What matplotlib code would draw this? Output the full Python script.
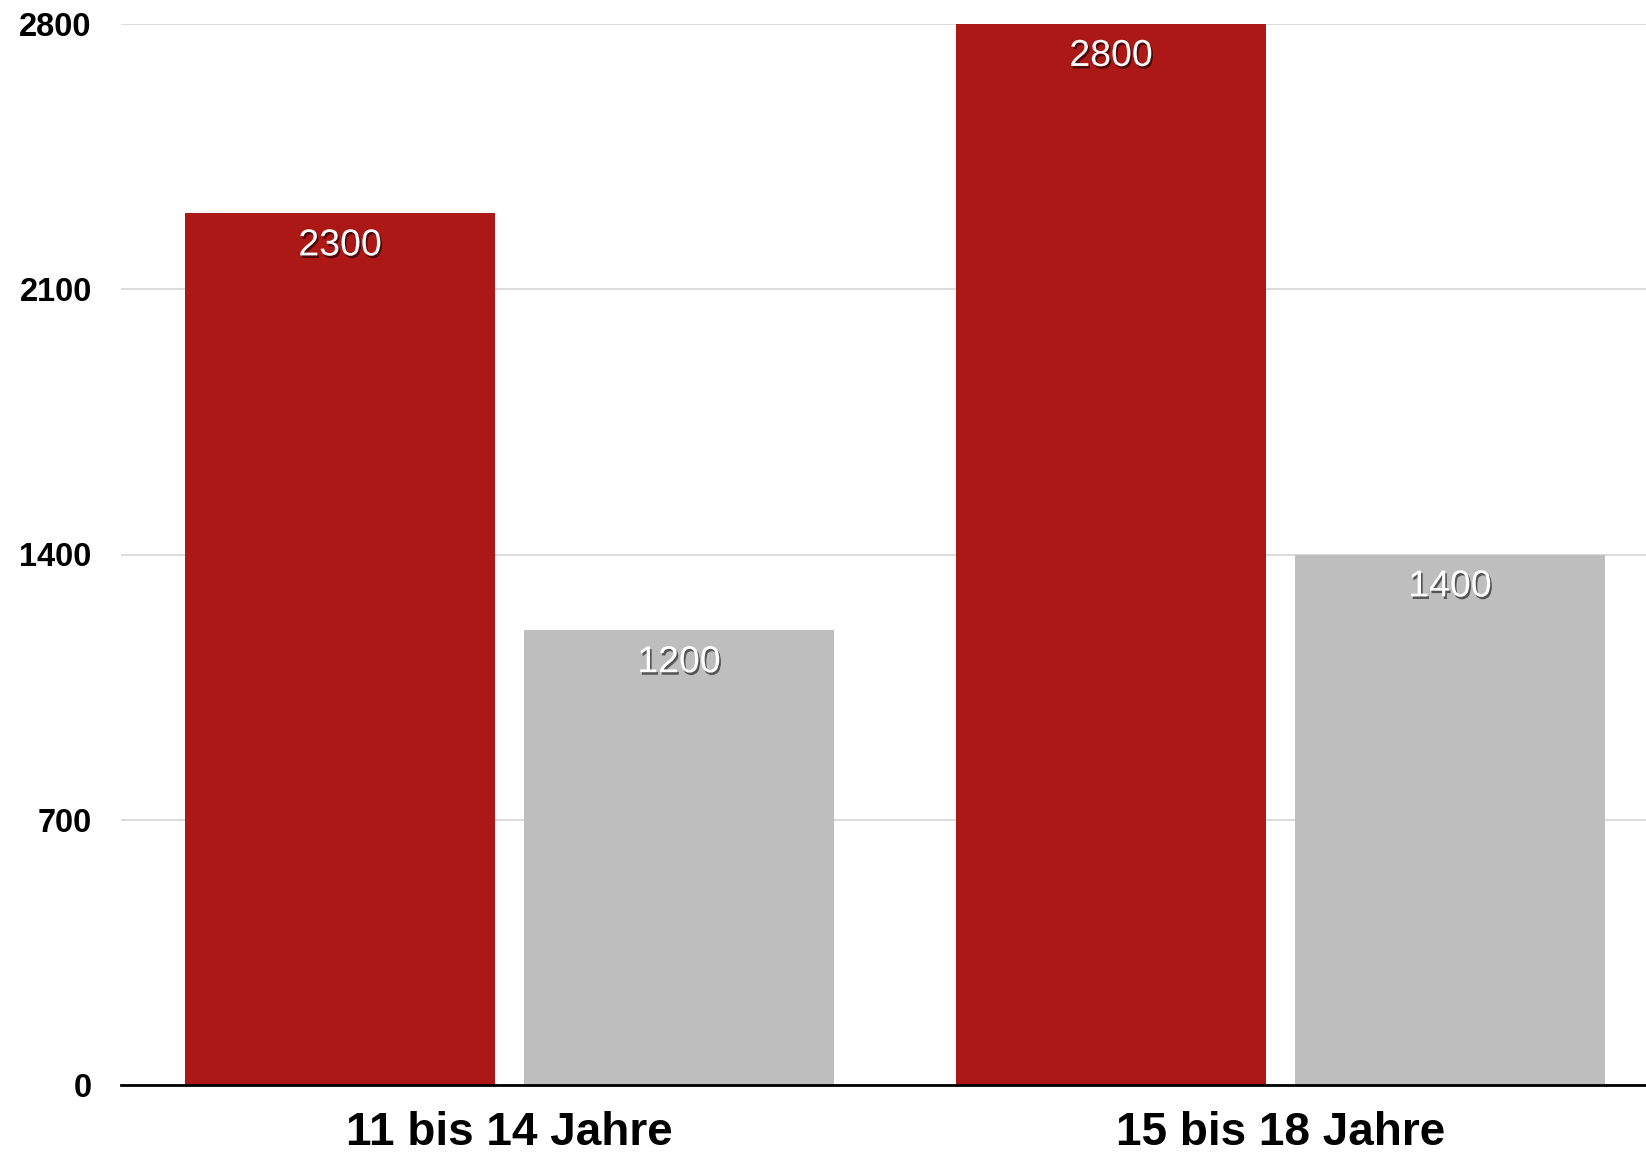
import matplotlib
matplotlib.use("Agg")
import matplotlib.pyplot as plt
import matplotlib.patheffects as pe
import numpy as np

categories = ["11 bis 14 Jahre", "15 bis 18 Jahre"]
series_red = [2300, 2800]
series_gray = [1200, 1400]
yticks = [0, 700, 1400, 2100, 2800]

plt.rcParams['font.family'] = ['Liberation Sans', 'DejaVu Sans']

W, H = 1646, 1156
fig = plt.figure(figsize=(W / 100, H / 100), dpi=100)
left, right, top, bottom = 121, 1646, 24, 1085
ax = fig.add_axes([left / W, (H - bottom) / H, (right - left) / W, (bottom - top) / H])

x = np.arange(len(categories))
bw = 0.402
off = 0.2198
red = "#AB1815"
gray = "#BEBEBE"
b1 = ax.bar(x - off, series_red, width=bw, color=red, zorder=3, linewidth=0)
b2 = ax.bar(x + off, series_gray, width=bw, color=gray, zorder=3, linewidth=0)

ax.set_xlim(-0.504, 1.474)
ax.set_ylim(0, 2800)
ax.set_yticks(yticks)
ax.set_yticklabels([str(v) for v in yticks], fontsize=23.5, fontweight='bold')
ax.set_xticks(x)
ax.set_xticklabels(categories, fontsize=33, fontweight='bold')
ax.tick_params(axis='y', length=0, pad=21)
ax.tick_params(axis='x', length=0, pad=19)
ax.yaxis.grid(True, color="#d9d9d9", linewidth=1.3, zorder=0)
ax.set_axisbelow(True)
for s in ['top', 'right', 'left']:
    ax.spines[s].set_visible(False)
ax.spines['bottom'].set_linewidth(2.0)
ax.spines['bottom'].set_color('black')
ax.spines['bottom'].set_zorder(4)

shadow = [pe.withSimplePatchShadow(offset=(1.2, -1.8), shadow_rgbFace='black', alpha=0.55)]
for bars, vals in ((b1, series_red), (b2, series_gray)):
    for rect, v in zip(bars, vals):
        ax.annotate(str(v), (rect.get_x() + rect.get_width() / 2, v),
                    xytext=(0, -23), textcoords='offset points',
                    ha='center', va='center', color='white', fontsize=27,
                    path_effects=shadow, zorder=5)

fig.savefig("out.png", dpi=100)
